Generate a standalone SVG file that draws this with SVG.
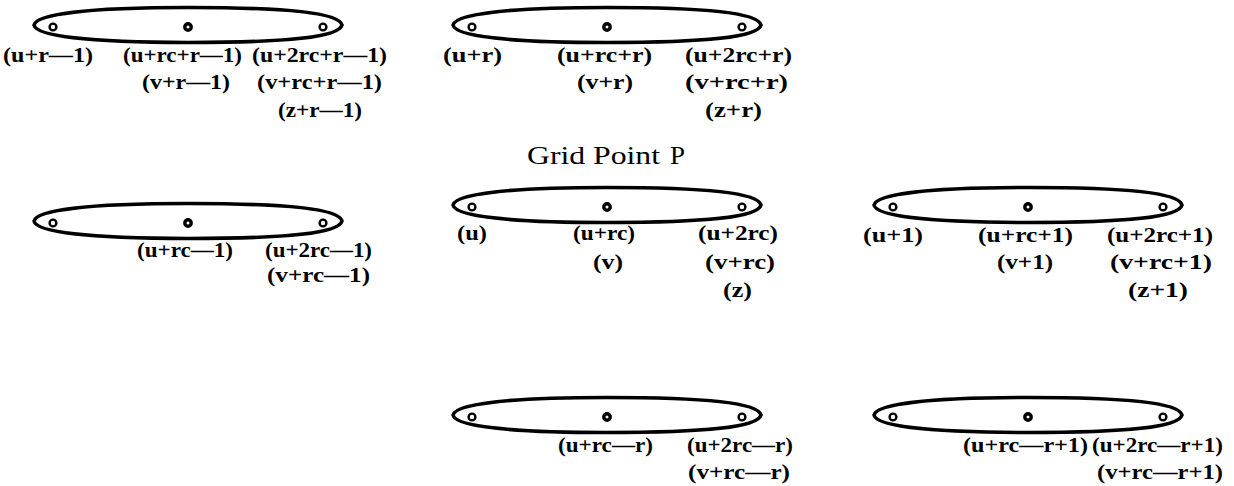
<svg xmlns="http://www.w3.org/2000/svg" xmlns:xlink="http://www.w3.org/1999/xlink" width="1234" height="486" viewBox="0 0 1234 486">
<style>
.lens{fill:none;stroke:#000;stroke-width:3.6;stroke-linejoin:round}
.dot{fill:#fff;stroke:#000;stroke-width:2.4}
.cdot{fill:#fff;stroke:#000;stroke-width:3.4}
.lb{font-family:"Liberation Serif","Times New Roman",serif;font-weight:bold;font-size:20px;fill:#000}
.title{font-family:"Liberation Serif","Times New Roman",serif;font-size:26px;fill:#000}
</style>
<defs>
<path id="lens" d="M-154,0 C-152,-11 -100,-17.5 0,-17.5 C100,-17.5 151,-12 154,0 C151,12 100,17.5 0,17.5 C-100,17.5 -152,11 -154,0 Z"/>
<g id="dots">
<circle cx="-135" cy="2" r="3.4"/>
<circle cx="135" cy="2" r="3.4"/>
</g>
</defs>
<rect width="1234" height="486" fill="#fff"/>
<g id="connectors"></g>

<g id="n-top-left">
<use xlink:href="#lens" href="#lens" class="lens" transform="translate(188,25)"/>
<use xlink:href="#dots" href="#dots" class="dot" transform="translate(188,25)"/>
<circle class="cdot" cx="188" cy="27" r="3.2"/>
<text class="lb" x="3" y="62" textLength="90" lengthAdjust="spacingAndGlyphs">(u+r—1)</text>
<text class="lb" x="123" y="62" textLength="119" lengthAdjust="spacingAndGlyphs">(u+rc+r—1)</text>
<text class="lb" x="252" y="62" textLength="135" lengthAdjust="spacingAndGlyphs">(u+2rc+r—1)</text>
<text class="lb" x="142" y="89" textLength="88" lengthAdjust="spacingAndGlyphs">(v+r—1)</text>
<text class="lb" x="257" y="89" textLength="125" lengthAdjust="spacingAndGlyphs">(v+rc+r—1)</text>
<text class="lb" x="278" y="117" textLength="84" lengthAdjust="spacingAndGlyphs">(z+r—1)</text>
</g>

<g id="n-top-mid">
<use xlink:href="#lens" href="#lens" class="lens" transform="translate(607,25)"/>
<use xlink:href="#dots" href="#dots" class="dot" transform="translate(607,25)"/>
<circle class="cdot" cx="607" cy="27" r="3.2"/>
<text class="lb" x="443" y="62" textLength="59" lengthAdjust="spacingAndGlyphs">(u+r)</text>
<text class="lb" x="557" y="62" textLength="95" lengthAdjust="spacingAndGlyphs">(u+rc+r)</text>
<text class="lb" x="685" y="62" textLength="107" lengthAdjust="spacingAndGlyphs">(u+2rc+r)</text>
<text class="lb" x="577" y="89" textLength="56" lengthAdjust="spacingAndGlyphs">(v+r)</text>
<text class="lb" x="685" y="89" textLength="103" lengthAdjust="spacingAndGlyphs">(v+rc+r)</text>
<text class="lb" x="705" y="117" textLength="57" lengthAdjust="spacingAndGlyphs">(z+r)</text>
</g>

<g id="n-mid-left">
<use xlink:href="#lens" href="#lens" class="lens" transform="translate(188,221)"/>
<use xlink:href="#dots" href="#dots" class="dot" transform="translate(188,221)"/>
<circle class="cdot" cx="188" cy="223" r="3.2"/>
<text class="lb" x="137" y="257" textLength="96" lengthAdjust="spacingAndGlyphs">(u+rc—1)</text>
<text class="lb" x="265" y="257" textLength="107" lengthAdjust="spacingAndGlyphs">(u+2rc—1)</text>
<text class="lb" x="267" y="282" textLength="103" lengthAdjust="spacingAndGlyphs">(v+rc—1)</text>
</g>

<g id="n-grid-point-p">
<text class="title" x="527" y="164" textLength="133" lengthAdjust="spacingAndGlyphs">Grid Point</text>
<text class="title" x="670" y="164" font-size="18" textLength="15" lengthAdjust="spacingAndGlyphs">P</text>
<use xlink:href="#lens" href="#lens" class="lens" transform="translate(607,205)"/>
<use xlink:href="#dots" href="#dots" class="dot" transform="translate(607,205)"/>
<circle class="cdot" cx="607" cy="207" r="3.2"/>
<text class="lb" x="457" y="240" textLength="30" lengthAdjust="spacingAndGlyphs">(u)</text>
<text class="lb" x="573" y="240" textLength="62" lengthAdjust="spacingAndGlyphs">(u+rc)</text>
<text class="lb" x="698" y="240" textLength="80" lengthAdjust="spacingAndGlyphs">(u+2rc)</text>
<text class="lb" x="593" y="269" textLength="30" lengthAdjust="spacingAndGlyphs">(v)</text>
<text class="lb" x="705" y="269" textLength="70" lengthAdjust="spacingAndGlyphs">(v+rc)</text>
<text class="lb" x="723" y="297" textLength="29" lengthAdjust="spacingAndGlyphs">(z)</text>
</g>

<g id="n-mid-right">
<use xlink:href="#lens" href="#lens" class="lens" transform="translate(1028,205)"/>
<use xlink:href="#dots" href="#dots" class="dot" transform="translate(1028,205)"/>
<circle class="cdot" cx="1028" cy="207" r="3.2"/>
<text class="lb" x="863" y="242" textLength="60" lengthAdjust="spacingAndGlyphs">(u+1)</text>
<text class="lb" x="978" y="242" textLength="95" lengthAdjust="spacingAndGlyphs">(u+rc+1)</text>
<text class="lb" x="1107" y="242" textLength="106" lengthAdjust="spacingAndGlyphs">(u+2rc+1)</text>
<text class="lb" x="997" y="269" textLength="56" lengthAdjust="spacingAndGlyphs">(v+1)</text>
<text class="lb" x="1110" y="269" textLength="102" lengthAdjust="spacingAndGlyphs">(v+rc+1)</text>
<text class="lb" x="1128" y="297" textLength="60" lengthAdjust="spacingAndGlyphs">(z+1)</text>
</g>

<g id="n-bottom-mid">
<use xlink:href="#lens" href="#lens" class="lens" transform="translate(607,415)"/>
<use xlink:href="#dots" href="#dots" class="dot" transform="translate(607,415)"/>
<circle class="cdot" cx="607" cy="417" r="3.2"/>
<text class="lb" x="558" y="452" textLength="95" lengthAdjust="spacingAndGlyphs">(u+rc—r)</text>
<text class="lb" x="687" y="452" textLength="106" lengthAdjust="spacingAndGlyphs">(u+2rc—r)</text>
<text class="lb" x="688" y="479" textLength="102" lengthAdjust="spacingAndGlyphs">(v+rc—r)</text>
</g>

<g id="n-bottom-right">
<use xlink:href="#lens" href="#lens" class="lens" transform="translate(1028,415)"/>
<use xlink:href="#dots" href="#dots" class="dot" transform="translate(1028,415)"/>
<circle class="cdot" cx="1028" cy="417" r="3.2"/>
<text class="lb" x="963" y="452" textLength="125" lengthAdjust="spacingAndGlyphs">(u+rc—r+1)</text>
<text class="lb" x="1092" y="452" textLength="131" lengthAdjust="spacingAndGlyphs">(u+2rc—r+1)</text>
<text class="lb" x="1097" y="479" textLength="126" lengthAdjust="spacingAndGlyphs">(v+rc—r+1)</text>
</g>
</svg>
